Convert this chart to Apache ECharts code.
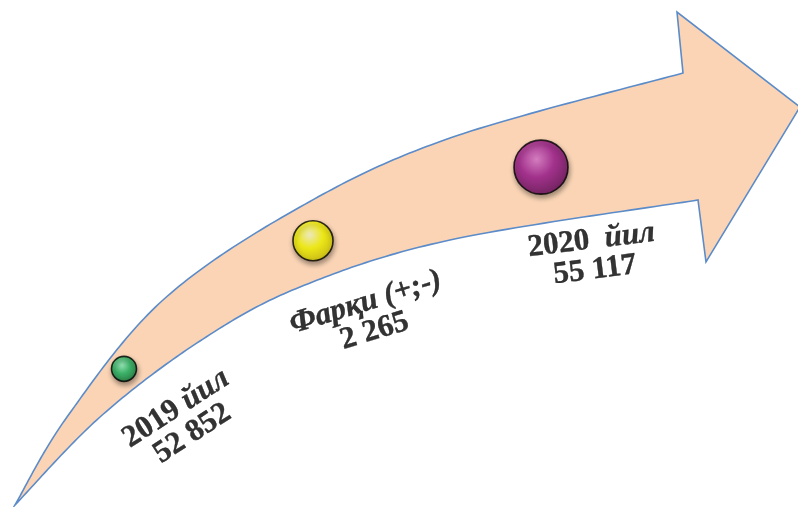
<!DOCTYPE html>
<html><head><meta charset="utf-8">
<script src="https://cdn.jsdelivr.net/npm/echarts@6/dist/echarts.min.js"></script>
<style>html,body{margin:0;padding:0;background:#fff}#c{width:798px;height:507px}</style>
</head><body><div id="c"></div>
<script>
// ---- data ----
const categories = ['2019 йил', 'Фарқи (+;-)', '2020  йил'];
const values = [52852, 2265, 55117];

// ---- layout (decoration geometry, pixel space) ----
const W = 798, H = 507;
const UPPER = [[15,505],[67,417],[163,300],[300,207],[450,138],[683,73]];
const LOWER = [[15,505],[100,417],[200,341],[300,287],[450,240],[698,200]];
const HEAD = [[677,12],[800,107],[706,262]];
const markerX = [124, 313, 541];
const markerSize = [25, 40, 54];
const labelRotate = [33, 17, 7];
const labelOffset = [[61,53],[58,77],[53,89]];
const markerColors = [
  ['#8ff5c0', '#22bb64', '#0f7d3b'],
  ['#ffffd0', '#ffff00', '#d6cc00'],
  ['#e07ad2', '#a31c92', '#6a0b5e']
];

function spline(pts, n) {
  const out = [];
  for (let i = 0; i < pts.length - 1; i++) {
    const p0 = pts[Math.max(i - 1, 0)], p1 = pts[i], p2 = pts[i + 1], p3 = pts[Math.min(i + 2, pts.length - 1)];
    for (let k = 0; k < n; k++) {
      const t = k / n, t2 = t * t, t3 = t2 * t;
      const f = (a, b, c, d) => 0.5 * ((2 * b) + (-a + c) * t + (2 * a - 5 * b + 4 * c - d) * t2 + (-a + 3 * b - 3 * c + d) * t3);
      out.push([f(p0[0], p1[0], p2[0], p3[0]), f(p0[1], p1[1], p2[1], p3[1])]);
    }
  }
  out.push(pts[pts.length - 1]);
  return out;
}
const upperCurve = spline(UPPER, 30);
const lowerCurve = spline(LOWER, 30);
const outline = upperCurve.concat(HEAD, lowerCurve.slice().reverse());

function edgeY(curve, x) {
  for (let i = 0; i < curve.length - 1; i++) {
    const a = curve[i], b = curve[i + 1];
    if ((x - a[0]) * (x - b[0]) <= 0 && a[0] !== b[0]) {
      return a[1] + (b[1] - a[1]) * (x - a[0]) / (b[0] - a[0]);
    }
  }
  return curve[curve.length - 1][1];
}

function fmt(v) { return String(v).replace(/\B(?=(\d{3})+(?!\d))/g, ' '); }
function richName(name) {
  // digits upright, words italic (as in the reference)
  return name.replace(/(\d+\s*)|([^\d]+)/g, (m, d, w) => d ? '{y|' + d + '}' : '{w|' + w + '}');
}

const FONT = '"Liberation Serif", "Times New Roman", serif';

const scatterData = categories.map((name, i) => {
  const x = markerX[i];
  const y = (edgeY(upperCurve, x) + edgeY(lowerCurve, x)) / 2;
  const c = markerColors[i];
  const s = markerSize[i];
  return {
    name: name,
    value: [x, y, values[i]],
    symbolSize: s,
    itemStyle: {
      color: {
        type: 'radial', x: 0.42, y: 0.36, r: 0.64,
        colorStops: [{ offset: 0, color: c[0] }, { offset: 0.5, color: c[1] }, { offset: 1, color: c[2] }]
      }
    },
    label: {
      rotate: labelRotate[i],
      position: [s / 2 + labelOffset[i][0], s / 2 + labelOffset[i][1]]
    }
  };
});

const chart = echarts.init(document.getElementById('c'), null, { renderer: 'canvas' });
chart.setOption({
  animation: false,
  backgroundColor: '#ffffff',
  grid: { left: 0, right: 0, top: 0, bottom: 0 },
  xAxis: { type: 'value', min: 0, max: W, show: false },
  yAxis: { type: 'value', min: 0, max: H, inverse: true, show: false },
  series: [
    {
      type: 'custom',
      silent: true,
      z: 1,
      data: [[0, 0]],
      clip: false,
      renderItem: function (params, api) {
        return {
          type: 'polygon',
          shape: { points: outline.map(p => api.coord(p)) },
          style: { fill: '#FAD4B5', stroke: '#5B8BC8', lineWidth: 1.6 }
        };
      }
    },
    {
      type: 'scatter',
      z: 5,
      data: scatterData,
      itemStyle: {
        borderColor: '#000', borderWidth: 1.6,
        shadowBlur: 5, shadowColor: 'rgba(0,0,0,0.45)', shadowOffsetY: 3, shadowOffsetX: 1
      },
      label: {
        show: true,
        color: '#000',
        align: 'center',
        verticalAlign: 'middle',
        lineHeight: 30,
        formatter: p => richName(p.name) + '\n{y|' + fmt(p.value[2]) + '}',
        rich: {
          y: { fontFamily: FONT, fontWeight: 'bold', fontSize: 31, color: '#000', lineHeight: 30, textBorderColor: '#000', textBorderWidth: 0.4 },
          w: { fontFamily: FONT, fontWeight: 'bold', fontStyle: 'italic', fontSize: 31, color: '#000', lineHeight: 30, textBorderColor: '#000', textBorderWidth: 0.4 }
        }
      },
      labelLayout: { hideOverlap: false }
    }
  ]
});
</script></body></html>
